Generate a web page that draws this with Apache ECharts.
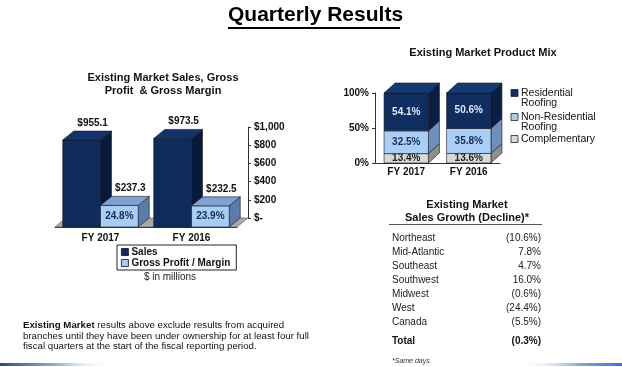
<!DOCTYPE html>
<html><head><meta charset="utf-8">
<script src="https://cdn.jsdelivr.net/npm/echarts@6/dist/echarts.min.js"></script>
<style>html,body{margin:0;padding:0;background:#fff}#c{width:622px;height:367px}</style>
</head><body><div id="c"></div>
<script>
// ---- data ----
const categories = ['FY 2017', 'FY 2016'];
const sales = [955.1, 973.5];
const grossProfit = [237.3, 232.5];
const grossMargin = [24.8, 23.9];
const mixCategories = ['FY 2017', 'FY 2016'];
const residentialRoofing = [54.1, 50.6];
const nonResidentialRoofing = [32.5, 35.8];
const complementary = [13.4, 13.6];
const regions = ['Northeast', 'Mid-Atlantic', 'Southeast', 'Southwest', 'Midwest', 'West', 'Canada'];
const growth = [-10.6, 7.8, 4.7, 16.0, -0.6, -24.4, -5.5];
const totalGrowth = -0.3;

// ---- styles ----
const FONT = '"Liberation Sans", Arial, sans-serif';
const C_SALES = {front: '#0e2b5e', side: '#061a3d', top: '#13336c'};
const C_GP = {front: '#a6cdf6', side: '#5b7bab', top: '#7fa1d3'};
const C_RES = {front: '#0f2d5f', side: '#0a1f44', top: '#143a73'};
const C_NON = {front: '#a9cff6', side: '#6f8fc1', top: '#8fb3e3'};
const C_COMP = {front: '#d9d9d9', side: '#8e8e8e', top: '#bdbdbd'};

const chart = echarts.init(document.getElementById('c'));

function box(x0, x1, yT, yB, dx, dy, c, withTop) {
  const st = {stroke: '#1a1a1a', lineWidth: 0.6};
  const ch = [
    {type: 'polygon', shape: {points: [[x1, yT], [x1 + dx, yT - dy], [x1 + dx, yB - dy], [x1, yB]]}, style: Object.assign({fill: c.side}, st)},
    {type: 'rect', shape: {x: x0, y: yT, width: x1 - x0, height: yB - yT}, style: Object.assign({fill: c.front}, st)}
  ];
  if (withTop) ch.push({type: 'polygon', shape: {points: [[x0, yT], [x0 + dx, yT - dy], [x1 + dx, yT - dy], [x1, yT]]}, style: Object.assign({fill: c.top}, st)});
  return ch;
}

const LDX = 11, LDY = 9;
function leftBar(side, colors, labelFmt, innerFmt, innerColor) {
  return function (params, api) {
    const i = api.value(0), v = api.value(1);
    const b = api.coord([i, 0]), t = api.coord([i, v]);
    const w = api.size([1, 0])[0] * 0.415;
    const x0 = side < 0 ? b[0] - w : b[0], x1 = side < 0 ? b[0] : b[0] + w;
    const ch = box(x0, x1, t[1], b[1], LDX, LDY, colors, true);
    ch.push({type: 'text', style: {text: labelFmt(v), x: (x0 + x1) / 2 + LDX, y: t[1] - LDY - 3, align: 'center', verticalAlign: 'bottom', font: 'bold 10px ' + FONT, fill: '#111'}});
    if (innerFmt) ch.push({type: 'text', style: {text: innerFmt(i), x: (x0 + x1) / 2, y: (t[1] + b[1]) / 2, align: 'center', verticalAlign: 'middle', font: 'bold 10px ' + FONT, fill: innerColor}});
    return {type: 'group', children: ch};
  };
}

const RDX = 11, RDY = 10;
function mixSeries(name, values, below, colors, labelColor, isTop) {
  return {
    type: 'custom', name: name, xAxisIndex: 2, yAxisIndex: 2, itemStyle: {color: colors.front},
    data: values.map((v, i) => [i, v, below[i]]),
    renderItem: function (params, api) {
      const i = api.value(0), v = api.value(1), s = api.value(2);
      const b = api.coord([i, s]), t = api.coord([i, s + v]);
      const w = api.size([1, 0])[0] * 0.71;
      const x0 = b[0] - w / 2, x1 = b[0] + w / 2;
      const ch = box(x0, x1, t[1], b[1], RDX, RDY, colors, isTop);
      ch.push({type: 'text', style: {text: v.toFixed(1) + '%', x: (x0 + x1) / 2, y: (t[1] + b[1]) / 2, align: 'center', verticalAlign: 'middle', font: 'bold 10px ' + FONT, fill: labelColor}});
      return {type: 'group', children: ch};
    }
  };
}

const nonBelow = complementary.slice();
const resBelow = complementary.map((v, i) => v + nonResidentialRoofing[i]);

function fmtGrowth(v) { return v < 0 ? '(' + Math.abs(v).toFixed(1) + '%)' : v.toFixed(1) + '%'; }

const graphics = [];
// main title
graphics.push({type: 'text', left: 228, top: 5, style: {text: 'Quarterly Results', font: 'bold 21px ' + FONT, fill: '#000'}});
graphics.push({type: 'rect', shape: {x: 228, y: 27, width: 172, height: 2}, style: {fill: '#000'}});
// chart titles
graphics.push({type: 'text', x: 163, y: 84.5, style: {text: 'Existing Market Sales, Gross\nProfit  & Gross Margin', align: 'center', verticalAlign: 'middle', lineHeight: 13, font: 'bold 11px ' + FONT, fill: '#111'}});
graphics.push({type: 'text', x: 483, y: 52.5, style: {text: 'Existing Market Product Mix', align: 'center', verticalAlign: 'middle', font: 'bold 11px ' + FONT, fill: '#111'}});
graphics.push({type: 'text', x: 170, y: 277, style: {text: '$ in millions', align: 'center', verticalAlign: 'middle', font: '10px ' + FONT, fill: '#222'}});
// right legend
const mixLegend = [['Residential\nRoofing', C_RES.front, 93], ['Non-Residential\nRoofing', C_NON.front, 117], ['Complementary', C_COMP.front, 139]];
mixLegend.forEach(function (it) {
  graphics.push({type: 'rect', shape: {x: 511, y: it[2] - 3.5, width: 7, height: 7}, style: {fill: it[1], stroke: '#222', lineWidth: 0.8}});
  graphics.push({type: 'text', x: 521, y: it[2] - 5.5, style: {text: it[0], align: 'left', verticalAlign: 'top', lineHeight: 10.5, font: '10.5px ' + FONT, fill: '#111'}});
});
// table
graphics.push({type: 'text', x: 467, y: 211.5, style: {text: 'Existing Market\nSales Growth (Decline)*', align: 'center', verticalAlign: 'middle', lineHeight: 13, font: 'bold 11px ' + FONT, fill: '#111'}});
graphics.push({type: 'rect', shape: {x: 389, y: 224, width: 153, height: 1}, style: {fill: '#555'}});
regions.forEach(function (r, i) {
  graphics.push({type: 'text', x: 392, y: 238 + 14 * i, style: {text: r, align: 'left', verticalAlign: 'middle', font: '10px ' + FONT, fill: '#222'}});
  graphics.push({type: 'text', x: 541, y: 238 + 14 * i, style: {text: fmtGrowth(growth[i]), align: 'right', verticalAlign: 'middle', font: '10px ' + FONT, fill: '#222'}});
});
graphics.push({type: 'text', x: 392, y: 341, style: {text: 'Total', align: 'left', verticalAlign: 'middle', font: 'bold 10px ' + FONT, fill: '#111'}});
graphics.push({type: 'text', x: 541, y: 341, style: {text: fmtGrowth(totalGrowth), align: 'right', verticalAlign: 'middle', font: 'bold 10px ' + FONT, fill: '#111'}});
graphics.push({type: 'text', x: 392, y: 361, style: {text: '*Same days', align: 'left', verticalAlign: 'middle', font: 'italic 7px ' + FONT, fill: '#333'}});
// footnote
graphics.push({type: 'text', x: 23, y: 320.5, style: {
  text: '{b|Existing Market} results above exclude results from acquired\nbranches until they have been under ownership for at least four full\nfiscal quarters at the start of the fiscal reporting period.',
  align: 'left', verticalAlign: 'top', lineHeight: 10.5, font: '9.7px ' + FONT, fill: '#111',
  rich: {b: {font: 'bold 9.7px ' + FONT, fill: '#111', lineHeight: 10.5}}
}});
// bottom decorative lines
graphics.push({type: 'rect', shape: {x: 0, y: 363, width: 110, height: 3}, style: {fill: new echarts.graphic.LinearGradient(0, 0, 1, 0, [{offset: 0, color: '#1b4d8e'}, {offset: 0.5, color: 'rgba(60,120,190,0.6)'}, {offset: 1, color: 'rgba(255,255,255,0)'}])}});
graphics.push({type: 'rect', shape: {x: 520, y: 363, width: 102, height: 3}, style: {fill: new echarts.graphic.LinearGradient(0, 0, 1, 0, [{offset: 0, color: 'rgba(255,255,255,0)'}, {offset: 0.6, color: 'rgba(60,130,210,0.7)'}, {offset: 1, color: '#2b7bd0'}])}});

const axisTxt = {fontFamily: FONT, fontWeight: 'bold', fontSize: 10, color: '#111'};

const option = {
  animation: false,
  textStyle: {fontFamily: FONT},
  grid: [
    {left: 55, top: 136, width: 182, height: 91},
    {left: 66, top: 127, width: 182, height: 91},
    {left: 375, top: 93, width: 125, height: 70}
  ],
  xAxis: [
    {gridIndex: 0, type: 'category', data: categories, axisLine: {lineStyle: {color: '#333', width: 1}}, axisTick: {length: 4, lineStyle: {color: '#333'}}, axisLabel: Object.assign({margin: 6}, axisTxt)},
    {gridIndex: 1, type: 'category', data: categories, show: false},
    {gridIndex: 2, type: 'category', data: mixCategories, axisLine: {lineStyle: {color: '#333'}}, axisTick: {length: 3, lineStyle: {color: '#333'}}, axisLabel: Object.assign({margin: 4}, axisTxt)}
  ],
  yAxis: [
    {gridIndex: 0, type: 'value', min: 0, max: 1000, show: false},
    {gridIndex: 1, type: 'value', position: 'right', min: 0, max: 1000, interval: 200,
      axisLine: {show: true, lineStyle: {color: '#333'}}, axisTick: {show: true, length: 3, lineStyle: {color: '#333'}}, splitLine: {show: false},
      axisLabel: Object.assign({margin: 6, formatter: function (v) { return v === 0 ? '$-' : '$' + v.toLocaleString('en-US'); }}, axisTxt)},
    {gridIndex: 2, type: 'value', min: 0, max: 100, interval: 50,
      axisLine: {show: true, lineStyle: {color: '#333'}}, axisTick: {show: true, length: 3, lineStyle: {color: '#333'}}, splitLine: {show: false},
      axisLabel: Object.assign({margin: 6, formatter: '{value}%'}, axisTxt)}
  ],
  legend: [{
    data: ['Sales', 'Gross Profit / Margin'], left: 117, top: 245, orient: 'vertical',
    padding: [2, 6, 2, 4], itemGap: 1, itemWidth: 7, itemHeight: 7, icon: 'rect',
    borderColor: '#222', borderWidth: 1, itemStyle: {borderColor: '#111', borderWidth: 0.8},
    textStyle: {fontFamily: FONT, fontWeight: 'bold', fontSize: 10, color: '#111', padding: [0, 0, 0, -2]}, selectedMode: false
  }],
  graphic: graphics,
  series: [
    {type: 'custom', name: 'floor', xAxisIndex: 0, yAxisIndex: 0, silent: true, z: 1, data: [[0]],
      renderItem: function (params, api) {
        const cs = params.coordSys, yb = cs.y + cs.height;
        return {type: 'polygon', shape: {points: [[cs.x, yb], [cs.x + LDX, yb - LDY], [cs.x + cs.width + LDX, yb - LDY], [cs.x + cs.width, yb]]}, style: {fill: '#a8a8a8', stroke: '#555', lineWidth: 0.6}};
      }},
    {type: 'custom', name: 'Sales', xAxisIndex: 0, yAxisIndex: 0, z: 3, itemStyle: {color: C_SALES.front},
      data: sales.map((v, i) => [i, v]),
      renderItem: leftBar(-1, C_SALES, v => '$' + v.toFixed(1), null, null)},
    {type: 'custom', name: 'Gross Profit / Margin', xAxisIndex: 0, yAxisIndex: 0, z: 3, itemStyle: {color: C_GP.front},
      data: grossProfit.map((v, i) => [i, v]),
      renderItem: leftBar(1, C_GP, v => '$' + v.toFixed(1), i => grossMargin[i].toFixed(1) + '%', '#1a2a55')},
    mixSeries('Complementary', complementary, [0, 0], C_COMP, '#222', false),
    mixSeries('Non-Residential Roofing', nonResidentialRoofing, nonBelow, C_NON, '#1a2a55', false),
    mixSeries('Residential Roofing', residentialRoofing, resBelow, C_RES, '#dfe9f8', true)
  ]
};
chart.setOption(option);
</script></body></html>
